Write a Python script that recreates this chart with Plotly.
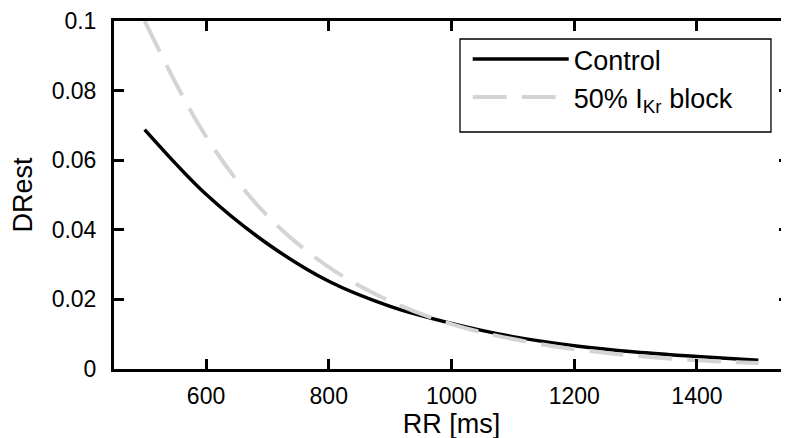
import plotly.graph_objects as go

rr = [500, 600, 700, 800, 900, 1000, 1100, 1200, 1300, 1400, 1500]
control = [0.0688, 0.0502, 0.0360, 0.0252, 0.0180, 0.0131, 0.0093, 0.0067, 0.0049, 0.0036, 0.0025]
block = [0.1000, 0.0668, 0.0440, 0.0293, 0.0195, 0.0129, 0.0086, 0.0057, 0.0038, 0.0025, 0.0017]

x_ticks = [600, 800, 1000, 1200, 1400]
y_ticks = [0, 0.02, 0.04, 0.06, 0.08, 0.1]
y_tick_text = ["0", "0.02", "0.04", "0.06", "0.08", "0.1"]

FONT = "Liberation Sans, Arial, Helvetica, sans-serif"

fig = go.Figure()
fig.add_trace(go.Scatter(x=rr, y=control, mode="lines", name="Control",
                         line=dict(color="black", width=3.5, shape="spline")))
fig.add_trace(go.Scatter(x=rr, y=block, mode="lines", name="50% I<sub>Kr</sub> block",
                         line=dict(color="#d4d4d4", width=4, shape="spline", dash="34px,15px")))

axis_common = dict(showline=True, linecolor="black", linewidth=3, mirror="allticks",
                   ticks="inside", ticklen=10, tickwidth=3, tickcolor="black",
                   showgrid=False, zeroline=False, automargin=False,
                   tickfont=dict(family=FONT, size=23, color="black"))

fig.update_layout(
    template="none",
    width=789, height=438,
    margin=dict(l=106, r=8, t=13, b=77, autoexpand=False),
    paper_bgcolor="white", plot_bgcolor="white",
    font=dict(family=FONT, color="black"),
    xaxis=dict(range=[450, 1550], tickvals=x_ticks,
               title=dict(text="RR [ms]", font=dict(family=FONT, size=27), standoff=2),
               ticklabelstandoff=4,
               **axis_common),
    yaxis=dict(range=[0, 0.1], tickvals=y_ticks, ticktext=y_tick_text,
               title=dict(text="DRest", font=dict(family=FONT, size=27), standoff=24),
               ticklabelstandoff=10,
               **axis_common),
    legend=dict(x=0.524, y=0.960, xanchor="left", yanchor="top",
                borderwidth=0, bgcolor="rgba(0,0,0,0)",
                font=dict(family=FONT, size=27, color="black"),
                itemwidth=96, tracegroupgap=0),
    showlegend=True,
    shapes=[dict(type="rect", xref="paper", yref="paper",
                 x0=0.5126, x1=0.9733, y0=0.681, y1=0.9483,
                 line=dict(color="black", width=1.3), fillcolor="white", layer="below")],
)

fig.write_html("out.html")
